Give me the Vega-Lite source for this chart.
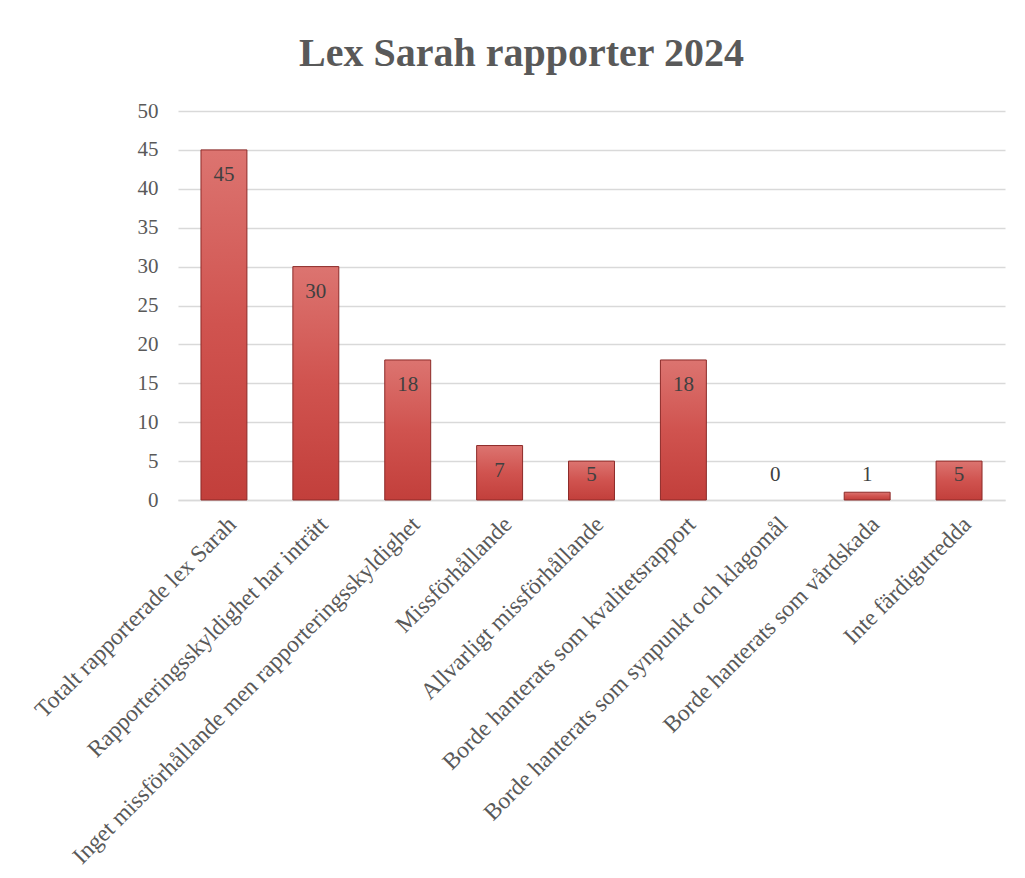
{
  "$schema": "https://vega.github.io/schema/vega-lite/v6.json",
  "width": 827,
  "height": 389,
  "autosize": {"type": "none"},
  "padding": {"left": 178, "top": 111, "right": 20, "bottom": 378},
  "background": "white",
  "title": {
    "text": "Lex Sarah rapporter 2024",
    "font": "Liberation Serif",
    "fontSize": 40,
    "fontWeight": "bold",
    "color": "#595959",
    "anchor": "middle",
    "frame": "group",
    "dx": -70,
    "offset": 26
  },
  "data": {
    "values": [
      {"kategori": "Totalt rapporterade lex Sarah", "antal": 45},
      {"kategori": "Rapporteringsskyldighet har inträtt", "antal": 30},
      {"kategori": "Inget missförhållande men rapporteringsskyldighet", "antal": 18},
      {"kategori": "Missförhållande", "antal": 7},
      {"kategori": "Allvarligt missförhållande", "antal": 5},
      {"kategori": "Borde hanterats som kvalitetsrapport", "antal": 18},
      {"kategori": "Borde hanterats som synpunkt och klagomål", "antal": 0},
      {"kategori": "Borde hanterats som vårdskada", "antal": 1},
      {"kategori": "Inte färdigutredda", "antal": 5}
    ]
  },
  "encoding": {
    "x": {
      "field": "kategori",
      "type": "nominal",
      "sort": null,
      "scale": {"paddingInner": 0.5, "paddingOuter": 0.25},
      "axis": {
        "title": null,
        "labelAngle": -45,
        "labelFont": "Liberation Serif",
        "labelFontSize": 23.5,
        "labelColor": "#595959",
        "labelPadding": 12,
        "labelDx": -6,
        "labelLimit": 1000,
        "ticks": false,
        "domainColor": "#d9d9d9",
        "domainWidth": 1.5
      }
    }
  },
  "layer": [
    {
      "mark": {
        "type": "bar",
        "stroke": "#8c2a28",
        "color": {
          "gradient": "linear",
          "x1": 0, "y1": 0, "x2": 0, "y2": 1,
          "stops": [
            {"offset": 0, "color": "#dc7470"},
            {"offset": 0.5, "color": "#d0534f"},
            {"offset": 1, "color": "#c23f3b"}
          ]
        }
      },
      "encoding": {
        "y": {
          "field": "antal",
          "type": "quantitative",
          "scale": {"domain": [0, 50]},
          "axis": {
            "title": null,
            "values": [0, 5, 10, 15, 20, 25, 30, 35, 40, 45, 50],
            "labelOverlap": false,
            "labelFont": "Liberation Serif",
            "labelFontSize": 21,
            "labelColor": "#595959",
            "labelPadding": 20,
            "ticks": false,
            "domain": false,
            "gridColor": "#d9d9d9",
            "gridWidth": 1.5
          }
        },
        "strokeWidth": {
          "condition": {"test": "datum.antal == 0", "value": 0},
          "value": 1
        }
      }
    },
    {
      "transform": [{"calculate": "max(datum.antal, 6.4)", "as": "etikettpos"}],
      "mark": {
        "type": "text",
        "font": "Liberation Serif",
        "fontSize": 21,
        "color": "#404040",
        "baseline": "middle",
        "dy": 25
      },
      "encoding": {
        "y": {
          "field": "etikettpos",
          "type": "quantitative",
          "scale": {"domain": [0, 50]},
          "axis": {
            "title": null,
            "values": [0, 5, 10, 15, 20, 25, 30, 35, 40, 45, 50],
            "labelOverlap": false,
            "labelFont": "Liberation Serif",
            "labelFontSize": 21,
            "labelColor": "#595959",
            "labelPadding": 20,
            "ticks": false,
            "domain": false,
            "gridColor": "#d9d9d9",
            "gridWidth": 1.5
          }
        },
        "text": {"field": "antal", "type": "quantitative"}
      }
    }
  ],
  "config": {"view": {"stroke": null}}
}
